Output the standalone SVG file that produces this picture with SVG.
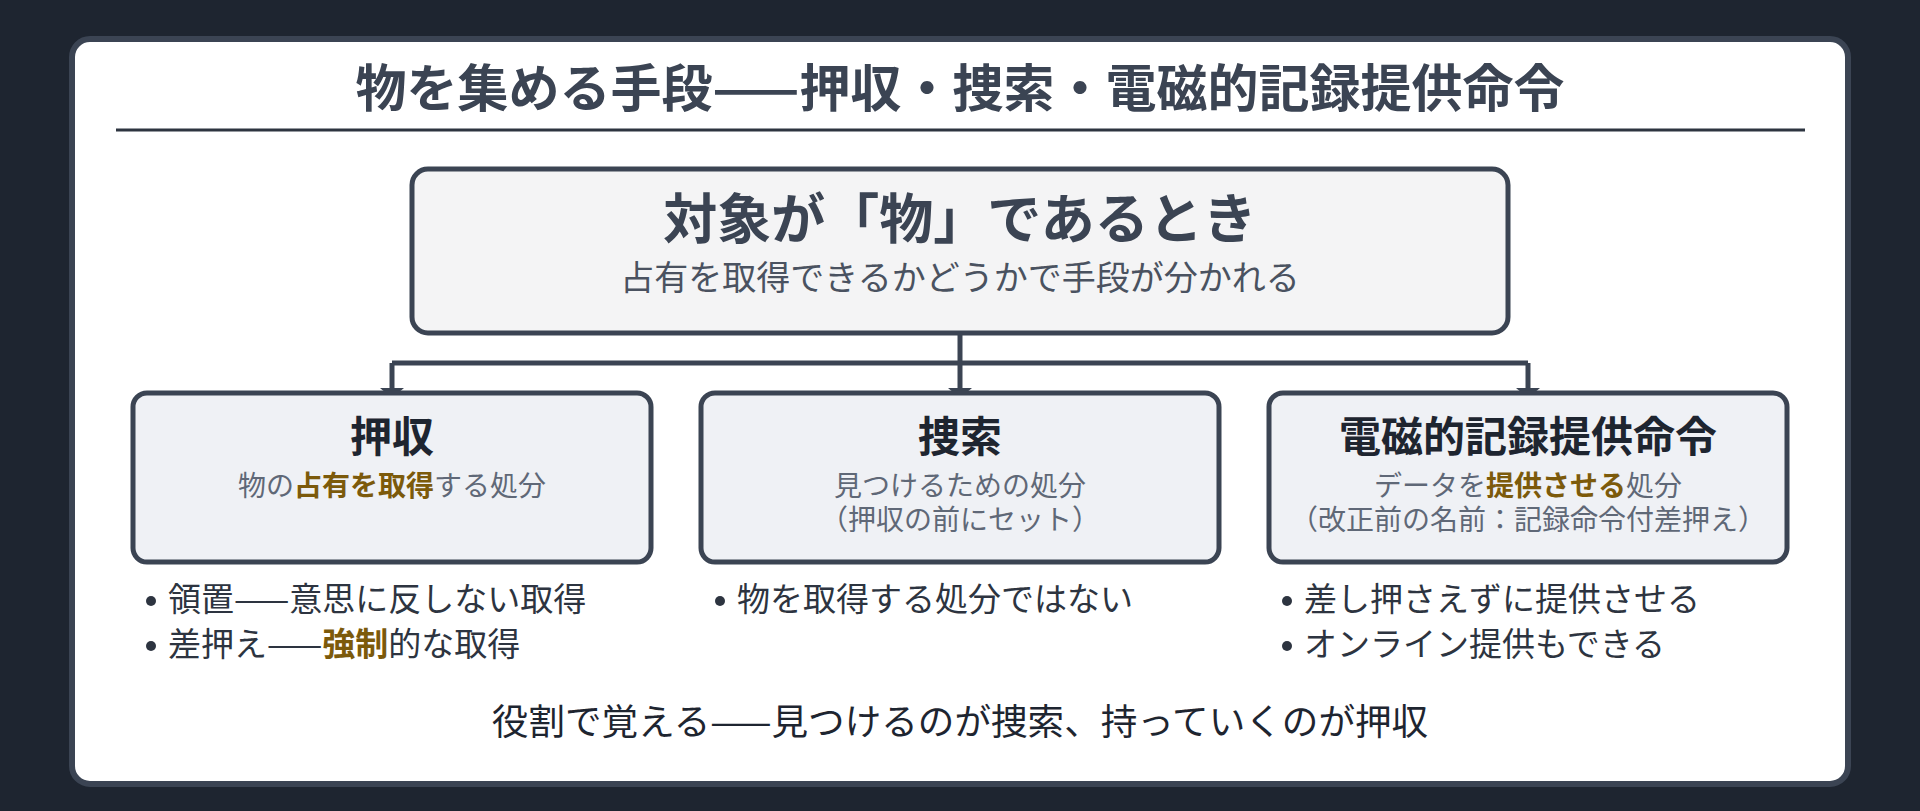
<svg xmlns="http://www.w3.org/2000/svg" width="1920" height="811" viewBox="0 0 1920 811">
<style>
text{font-family:"Noto Sans CJK JP","Noto Sans CJK SC",sans-serif;}
.title{font-size:51px;font-weight:700;fill:#3b4453;text-anchor:middle;}
.toph{font-size:54px;font-weight:700;fill:#3b4453;text-anchor:middle;}
.tops{font-size:34px;fill:#4a5260;text-anchor:middle;}
.nh{font-size:42px;font-weight:700;fill:#1e2530;text-anchor:middle;}
.ns{font-size:28px;fill:#5f6877;text-anchor:middle;}
.hl{font-weight:700;fill:#7c5a0b;}
.bl{font-size:33px;fill:#2d3440;}
.dot{fill:#2d3440;}
.foot{font-size:36.6px;fill:#1e2530;text-anchor:middle;}
.node{stroke:#3b4453;stroke-width:5;}
.conn{fill:none;stroke:#3b4453;stroke-width:5;}
</style>
<defs>
<marker id="arr" markerUnits="userSpaceOnUse" markerWidth="10" markerHeight="24" viewBox="0 -12 10 24" refX="0" refY="0" orient="auto">
<path d="M0 -12 L10 0 L0 12 Z" fill="#3b4453"/>
</marker>
</defs>
<rect x="0" y="0" width="1920" height="811" fill="#1e2530"/>
<rect x="72" y="39" width="1776" height="745" rx="18" fill="#ffffff" stroke="#3b4453" stroke-width="6"/>
<text class="title" x="960" y="107">物を集める手段——押収・捜索・電磁的記録提供命令</text>
<line x1="116" y1="130" x2="1805" y2="130" stroke="#2d3440" stroke-width="3"/>

<g id="connectors">
<path class="conn" d="M960 334 V363"/>
<path class="conn" d="M392 363 H1528"/>
<path class="conn" d="M392 363 V388" marker-end="url(#arr)"/>
<path class="conn" d="M960 363 V388" marker-end="url(#arr)"/>
<path class="conn" d="M1528 363 V388" marker-end="url(#arr)"/>
</g>

<g id="node-top">
<rect class="node" x="412" y="169" width="1096" height="164" rx="16" fill="#f4f4f5"/>
<text class="toph" x="960" y="239">対象が「物」であるとき</text>
<text class="tops" x="960" y="290">占有を取得できるかどうかで手段が分かれる</text>
</g>

<g id="node-oshu">
<rect class="node" x="133" y="393" width="518" height="169" rx="14" fill="#eff1f5"/>
<text class="nh" x="392" y="452">押収</text>
<text class="ns" x="392" y="496">物の<tspan class="hl">占有を取得</tspan>する処分</text>
</g>

<g id="node-sosaku">
<rect class="node" x="701" y="393" width="518" height="169" rx="14" fill="#eff1f5"/>
<text class="nh" x="960" y="452">捜索</text>
<text class="ns" x="960" y="496">見つけるための処分</text>
<text class="ns" x="960" y="530">（押収の前にセット）</text>
</g>

<g id="node-denji">
<rect class="node" x="1269" y="393" width="518" height="169" rx="14" fill="#eff1f5"/>
<text class="nh" x="1528" y="452">電磁的記録提供命令</text>
<text class="ns" x="1528" y="496">データを<tspan class="hl">提供させる</tspan>処分</text>
<text class="ns" x="1528" y="530">（改正前の名前：記録命令付差押え）</text>
</g>

<g id="bullets-oshu">
<circle class="dot" cx="151" cy="601" r="5"/>
<text class="bl" x="168" y="611">領置——意思に反しない取得</text>
<circle class="dot" cx="151" cy="646" r="5"/>
<text class="bl" x="168" y="656">差押え——<tspan class="hl">強制</tspan>的な取得</text>
</g>

<g id="bullets-sosaku">
<circle class="dot" cx="720" cy="601" r="5"/>
<text class="bl" x="737" y="611">物を取得する処分ではない</text>
</g>

<g id="bullets-denji">
<circle class="dot" cx="1287" cy="601" r="5"/>
<text class="bl" x="1304" y="611">差し押さえずに提供させる</text>
<circle class="dot" cx="1287" cy="646" r="5"/>
<text class="bl" x="1304" y="656">オンライン提供もできる</text>
</g>

<text class="foot" x="960" y="735">役割で覚える——見つけるのが捜索、持っていくのが押収</text>
</svg>
